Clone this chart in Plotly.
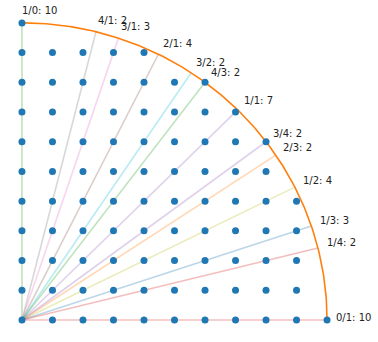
import math
import plotly.graph_objects as go

radius = 10
# highest lattice row in each column x = 0..10 inside the quarter circle
column_x = [0, 1, 2, 3, 4, 5, 6, 7, 8, 9, 10]
column_top = [10, 9, 9, 9, 9, 8, 8, 7, 6, 4, 0]

# rays (rise / run) in drawing order, with point counts
ray_rise = [1, 0, 1, 2, 3, 4, 1, 3, 1, 2, 4, 1, 3]
ray_run = [0, 1, 1, 1, 1, 1, 2, 2, 3, 3, 3, 4, 4]
ray_count = [10, 10, 7, 4, 3, 2, 4, 2, 3, 2, 2, 2, 2]

tab10 = ["#1f77b4", "#ff7f0e", "#2ca02c", "#d62728", "#9467bd",
         "#8c564b", "#e377c2", "#7f7f7f", "#bcbd22", "#17becf"]


def rgba(h, a):
    h = h.lstrip("#")
    return f"rgba({int(h[0:2],16)},{int(h[2:4],16)},{int(h[4:6],16)},{a})"


fig = go.Figure()

# rays
for i, (r, n) in enumerate(zip(ray_rise, ray_run)):
    ang = math.atan2(r, n)
    col = tab10[(i + 2) % 10]
    fig.add_trace(go.Scatter(
        x=[0, radius * math.cos(ang)], y=[0, radius * math.sin(ang)],
        mode="lines", line=dict(color=rgba(col, 0.3), width=1.6),
        hoverinfo="skip", showlegend=False))

# circle arc
theta = [i * (math.pi / 2) / 200 for i in range(201)]
fig.add_trace(go.Scatter(
    x=[radius * math.cos(t) for t in theta],
    y=[radius * math.sin(t) for t in theta],
    mode="lines", line=dict(color="#ff7f0e", width=1.6),
    hoverinfo="skip", showlegend=False))

# lattice points
px, py = [], []
for cx, top in zip(column_x, column_top):
    for yy in range(top + 1):
        px.append(cx)
        py.append(yy)
fig.add_trace(go.Scatter(
    x=px, y=py, mode="markers",
    marker=dict(color="#1f77b4", size=7),
    showlegend=False))

# labels
for r, n, c in zip(ray_rise, ray_run, ray_count):
    ang = math.atan2(r, n)
    fig.add_annotation(
        x=10.3 * math.cos(ang), y=10.3 * math.sin(ang) + 0.1,
        xshift=-2,
        text=f"{r}/{n}: {c}", showarrow=False,
        xanchor="left", yanchor="middle",
        font=dict(family="DejaVu Sans", size=10, color="#222222"))

fig.update_layout(
    width=378, height=342,
    margin=dict(l=0, r=0, t=0, b=0),
    plot_bgcolor="white", paper_bgcolor="white",
    xaxis=dict(range=[-0.72, 11.67], visible=False, showgrid=False),
    yaxis=dict(range=[-0.74, 10.77], visible=False, showgrid=False),
)

fig.write_html("out.html")
